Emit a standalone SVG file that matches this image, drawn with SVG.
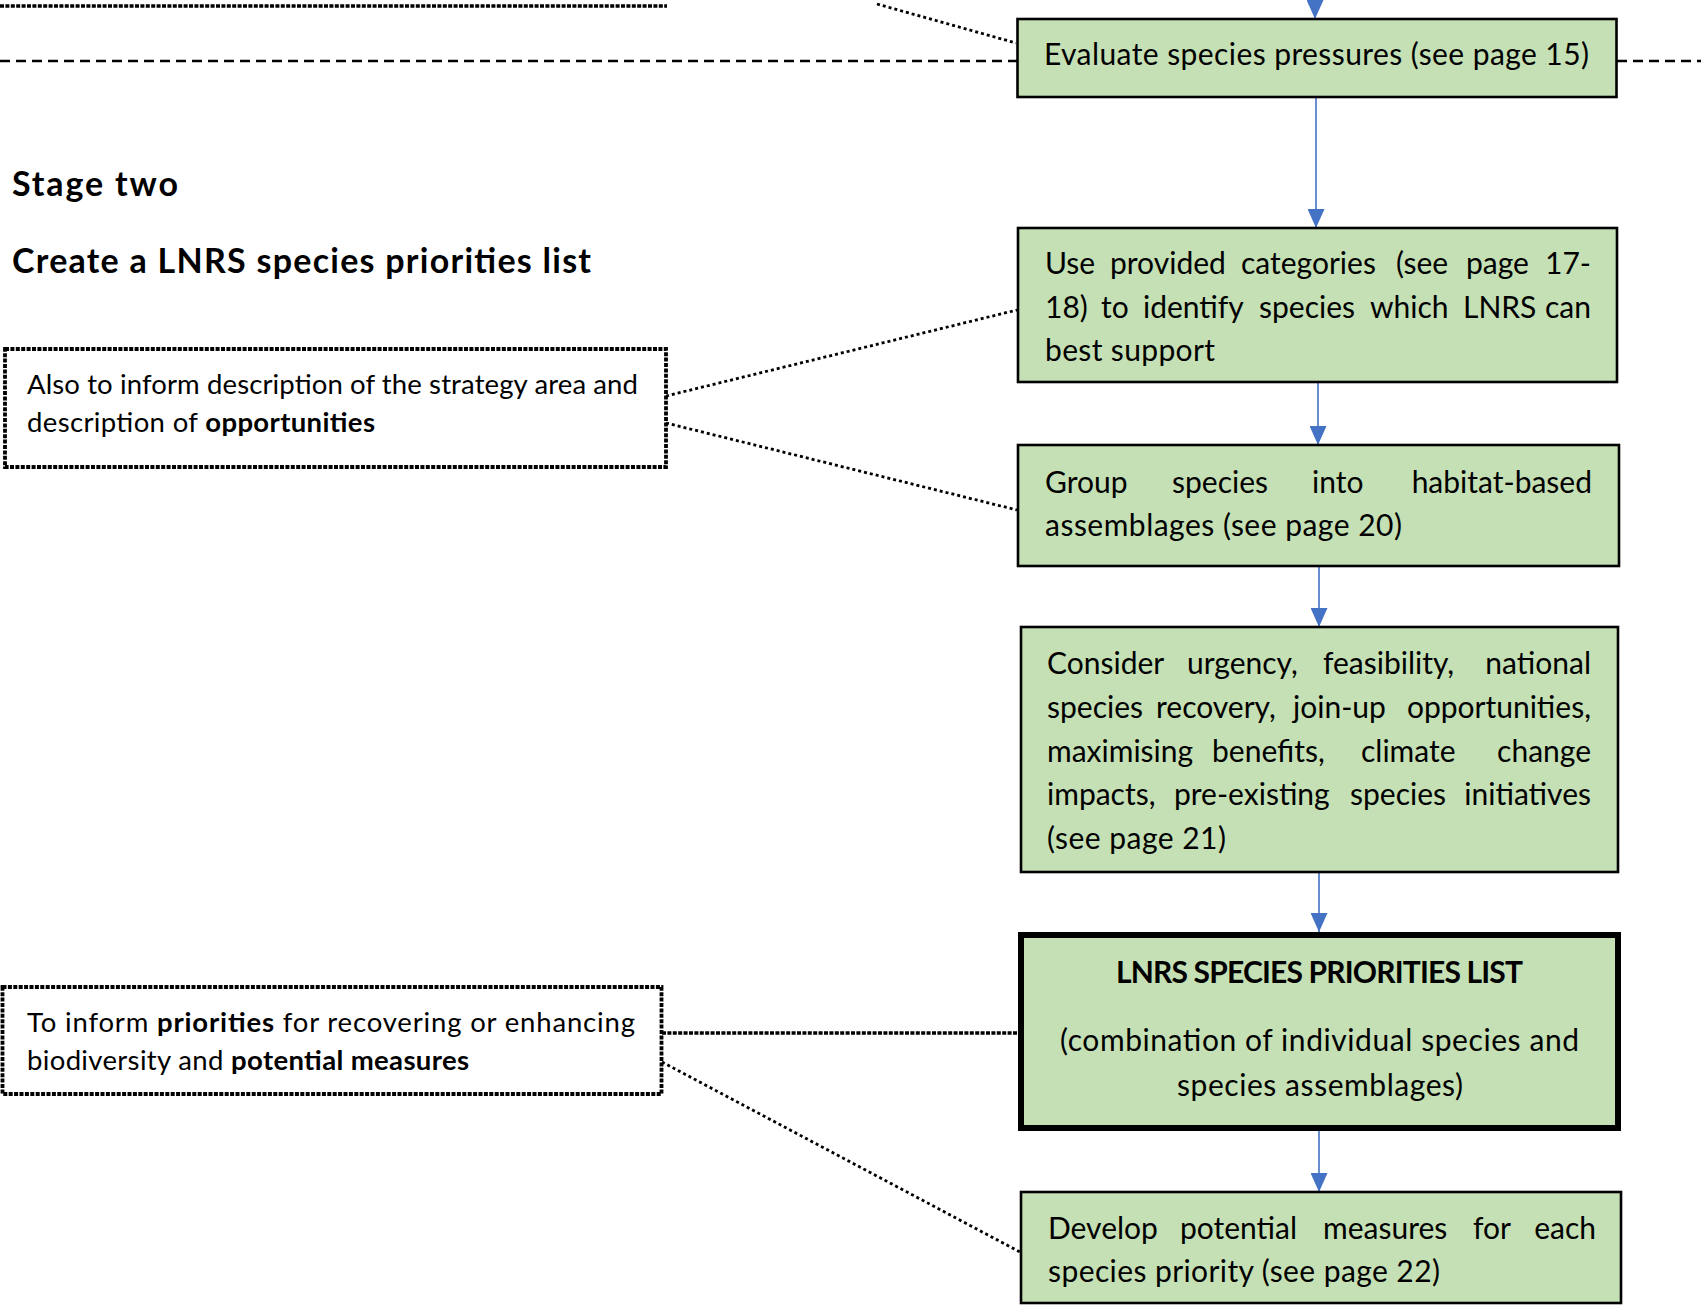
<svg xmlns="http://www.w3.org/2000/svg" width="1701" height="1306" viewBox="0 0 1701 1306">
<style>
.box{fill:#C5E0B4;stroke:#000;stroke-width:2.6}
.thick{fill:#C5E0B4;stroke:#000;stroke-width:6}
.note{fill:#fff;stroke:#000;stroke-width:3.8;stroke-dasharray:4 1.4}
.t{font-family:Lato,"Liberation Sans",sans-serif;font-size:30px;fill:#000}
.s{font-family:Lato,"Liberation Sans",sans-serif;font-size:27.5px;fill:#000}
.h{font-family:Lato,"Liberation Sans",sans-serif;font-size:34px;font-weight:bold;fill:#000}
.b{font-weight:bold}
.flow{stroke:#4472C4;stroke-width:1.6;fill:none}
.dot{stroke:#000;stroke-width:2.8;stroke-dasharray:3 3;fill:none}
.sq{stroke:#000;stroke-width:3.6;stroke-dasharray:4 1.4;fill:none}
.dash{stroke:#000;stroke-width:2.6;stroke-dasharray:10 6;fill:none}
</style>
<defs>
<marker id="arr" markerUnits="userSpaceOnUse" markerWidth="19" markerHeight="17" refX="19" refY="8.5" orient="auto">
<path d="M0,0 L19,8.5 L0,17 z" fill="#4472C4"/>
</marker>
</defs>
<rect width="1701" height="1306" fill="#fff"/>

<g id="connectors">
<line class="sq" x1="0" y1="6" x2="667" y2="6"/>
<line class="dot" x1="877" y1="4" x2="1016" y2="43"/>
<line class="dash" x1="0" y1="61" x2="1017" y2="61"/>
<line class="dash" x1="1617" y1="61" x2="1701" y2="61"/>
<line class="dot" x1="666" y1="396" x2="1017" y2="310"/>
<line class="dot" x1="666" y1="423" x2="1017" y2="510"/>
<line class="sq" x1="662" y1="1033" x2="1018" y2="1033"/>
<line class="dot" x1="662" y1="1062" x2="1020" y2="1252"/>
<line class="flow" x1="1315" y1="0" x2="1315" y2="19" marker-end="url(#arr)"/>
<line class="flow" x1="1316" y1="97" x2="1316" y2="228" marker-end="url(#arr)"/>
<line class="flow" x1="1318" y1="382" x2="1318" y2="445" marker-end="url(#arr)"/>
<line class="flow" x1="1319" y1="566" x2="1319" y2="627" marker-end="url(#arr)"/>
<line class="flow" x1="1319" y1="872" x2="1319" y2="932" marker-end="url(#arr)"/>
<line class="flow" x1="1319" y1="1131" x2="1319" y2="1192" marker-end="url(#arr)"/>
</g>

<g id="heading">
<text class="h" x="12" y="196" textLength="166" lengthAdjust="spacing">Stage two</text>
<text class="h" x="12" y="273" textLength="579" lengthAdjust="spacing">Create a LNRS species priorities list</text>
</g>

<g id="evaluate">
<rect class="box" x="1017.5" y="19" width="599" height="78"/>
<text class="t" x="1044" y="65" textLength="545" lengthAdjust="spacing">Evaluate species pressures (see page 15)</text>
</g>

<g id="categories">
<rect class="box" x="1018" y="228" width="599" height="154"/>
<text class="t" y="274"><tspan x="1045">Use </tspan><tspan x="1110">provided </tspan><tspan x="1241">categories </tspan><tspan x="1396">(see </tspan><tspan x="1466">page </tspan><tspan x="1591" text-anchor="end">17-</tspan></text>
<text class="t" y="318"><tspan x="1045">18) </tspan><tspan x="1101">to </tspan><tspan x="1143">identify </tspan><tspan x="1259">species </tspan><tspan x="1370">which </tspan><tspan x="1463">LNRS </tspan><tspan x="1591" text-anchor="end">can</tspan></text>
<text class="t" x="1045" y="361" textLength="170" lengthAdjust="spacing">best support</text>
</g>

<g id="group">
<rect class="box" x="1018" y="445" width="601" height="121"/>
<text class="t" y="493"><tspan x="1045">Group </tspan><tspan x="1172">species </tspan><tspan x="1312">into </tspan><tspan x="1592" text-anchor="end">habitat-based</tspan></text>
<text class="t" x="1045" y="536" textLength="357" lengthAdjust="spacing">assemblages (see page 20)</text>
</g>

<g id="consider">
<rect class="box" x="1021" y="627" width="597" height="245"/>
<text class="t" y="674"><tspan x="1047">Consider </tspan><tspan x="1187">urgency, </tspan><tspan x="1323">feasibility, </tspan><tspan x="1591" text-anchor="end">national</tspan></text>
<text class="t" y="718"><tspan x="1047">species </tspan><tspan x="1156">recovery, </tspan><tspan x="1293">join-up </tspan><tspan x="1591" text-anchor="end">opportunities,</tspan></text>
<text class="t" y="762"><tspan x="1047">maximising </tspan><tspan x="1212">benefits, </tspan><tspan x="1361">climate </tspan><tspan x="1591" text-anchor="end">change</tspan></text>
<text class="t" y="805"><tspan x="1047">impacts, </tspan><tspan x="1174">pre-existing </tspan><tspan x="1350">species </tspan><tspan x="1591" text-anchor="end">initiatives</tspan></text>
<text class="t" x="1047" y="849" textLength="179" lengthAdjust="spacing">(see page 21)</text>
</g>

<g id="priorities-list">
<rect class="thick" x="1021" y="935" width="597" height="193"/>
<text class="t b" x="1319.5" y="983" text-anchor="middle" font-size="29" textLength="407" lengthAdjust="spacing">LNRS SPECIES PRIORITIES LIST</text>
<text class="t" x="1319.5" y="1051" text-anchor="middle" textLength="519" lengthAdjust="spacing">(combination of individual species and</text>
<text class="t" x="1320" y="1096" text-anchor="middle" textLength="286" lengthAdjust="spacing">species assemblages)</text>
</g>

<g id="measures">
<rect class="box" x="1021" y="1192" width="600" height="111"/>
<text class="t" y="1239"><tspan x="1048">Develop </tspan><tspan x="1180">potential </tspan><tspan x="1323">measures </tspan><tspan x="1473">for </tspan><tspan x="1596" text-anchor="end">each</tspan></text>
<text class="t" x="1048" y="1282" textLength="392" lengthAdjust="spacing">species priority (see page 22)</text>
</g>

<g id="note-opportunities">
<rect class="note" x="5" y="349" width="661" height="118"/>
<text class="s" x="27" y="394" textLength="611" lengthAdjust="spacing">Also to inform description of the strategy area and</text>
<text class="s" x="27" y="432" textLength="348" lengthAdjust="spacing">description of <tspan class="b">opportunities</tspan></text>
</g>

<g id="note-priorities">
<rect class="note" x="2.5" y="987" width="659" height="107"/>
<text class="s" x="27" y="1032" textLength="608" lengthAdjust="spacing">To inform <tspan class="b">priorities</tspan> for recovering or enhancing</text>
<text class="s" x="27" y="1070" textLength="442" lengthAdjust="spacing">biodiversity and <tspan class="b">potential measures</tspan></text>
</g>
</svg>
